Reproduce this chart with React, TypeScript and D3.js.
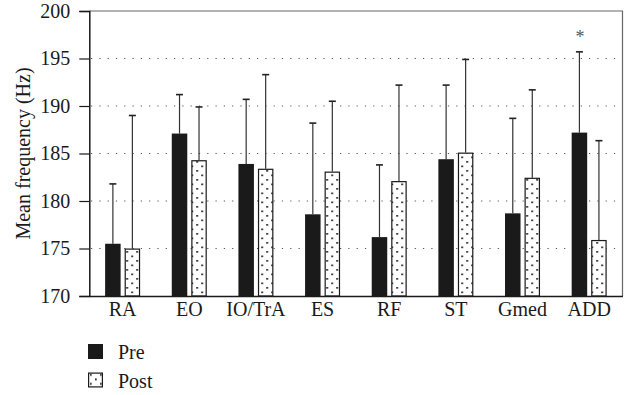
import * as d3 from "d3";
import { useEffect, useRef } from "react";

const categories = ["RA", "EO", "IO/TrA", "ES", "RF", "ST", "Gmed", "ADD"];
const preMeans = [175.5, 187.1, 183.9, 178.6, 176.2, 184.4, 178.7, 187.2];
const preErrTop = [181.8, 191.2, 190.7, 188.2, 183.8, 192.2, 188.7, 195.7];
const postMeans = [175.0, 184.3, 183.4, 183.1, 182.1, 185.1, 182.45, 175.9];
const postErrTop = [189.0, 189.9, 193.3, 190.5, 192.2, 194.9, 191.7, 186.35];
const yTicks = [170, 175, 180, 185, 190, 195, 200];
const gridValues = [175, 180, 185, 190, 195];
const significant = ["ADD"];

const FONT = "'Liberation Serif', 'Times New Roman', serif";
const FS = 20;

export default function App() {
  const ref = useRef<SVGSVGElement | null>(null);

  useEffect(() => {
    if (!ref.current) return;
    const svg = d3.select(ref.current);
    svg.selectAll("*").remove();

    const W = 637;
    const H = 395;
    const margin = { top: 11, right: 14.5, bottom: 99, left: 89.3 };
    const width = W - margin.left - margin.right;
    const height = H - margin.top - margin.bottom;

    // dotted fill for the "Post" bars
    const defs = svg.append("defs");
    const pat = defs
      .append("pattern")
      .attr("id", "dots")
      .attr("patternUnits", "userSpaceOnUse")
      .attr("width", 10)
      .attr("height", 9);
    pat.append("rect").attr("width", 10).attr("height", 9).attr("fill", "#fff");
    pat.append("rect").attr("x", 2).attr("y", 1.5).attr("width", 1.7).attr("height", 1.7).attr("fill", "#111");
    pat.append("rect").attr("x", 7).attr("y", 6).attr("width", 1.7).attr("height", 1.7).attr("fill", "#111");

    const g = svg.append("g").attr("transform", `translate(${margin.left},${margin.top})`);

    const x = d3.scaleBand().domain(categories).range([0, width]);
    const y = d3.scaleLinear().domain([170, 200]).range([height, 0]);

    // gridlines
    g.selectAll(".grid")
      .data(gridValues)
      .enter()
      .append("line")
      .attr("x1", 0)
      .attr("x2", width)
      .attr("y1", (d) => y(d))
      .attr("y2", (d) => y(d))
      .attr("stroke", "#555")
      .attr("stroke-width", 1.2)
      .attr("stroke-dasharray", "1.2,7.1")
      .attr("stroke-dashoffset", -10);

    // frame top & right
    g.append("path")
      .attr("d", `M0,0H${width}V${height}`)
      .attr("fill", "none")
      .attr("stroke", "#666")
      .attr("stroke-width", 1.2);

    const barW = 15.5;
    const gap = 2;

    const rows = categories.map((c, i) => ({
      c,
      pre: preMeans[i],
      preErr: preErrTop[i],
      post: postMeans[i],
      postErr: postErrTop[i],
    }));

    const cx = (c: string) => x(c)! + x.bandwidth() / 2;

    // error bars
    const errs = rows.flatMap((r) => [
      { xc: cx(r.c) - gap - barW / 2, v: r.pre, e: r.preErr },
      { xc: cx(r.c) + gap + barW / 2, v: r.post, e: r.postErr },
    ]);
    const eb = g.selectAll(".err").data(errs).enter().append("g");
    eb.append("line")
      .attr("x1", (d) => d.xc)
      .attr("x2", (d) => d.xc)
      .attr("y1", (d) => y(d.v))
      .attr("y2", (d) => y(d.e))
      .attr("stroke", "#333")
      .attr("stroke-width", 1.2);
    eb.append("line")
      .attr("x1", (d) => d.xc - 3.5)
      .attr("x2", (d) => d.xc + 3.5)
      .attr("y1", (d) => y(d.e))
      .attr("y2", (d) => y(d.e))
      .attr("stroke", "#222")
      .attr("stroke-width", 1.6);

    // pre bars
    g.selectAll(".pre")
      .data(rows)
      .enter()
      .append("rect")
      .attr("x", (d) => cx(d.c) - gap - barW)
      .attr("y", (d) => y(d.pre))
      .attr("width", barW)
      .attr("height", (d) => height - y(d.pre))
      .attr("fill", "#1a1a1a");

    // post bars
    g.selectAll(".post")
      .data(rows)
      .enter()
      .append("rect")
      .attr("x", (d) => cx(d.c) + gap + 0.6)
      .attr("y", (d) => y(d.post) + 0.6)
      .attr("width", barW - 1.2)
      .attr("height", (d) => height - y(d.post) - 0.6)
      .attr("fill", "url(#dots)")
      .attr("stroke", "#1a1a1a")
      .attr("stroke-width", 1.2);

    // significance marks
    g.selectAll(".sig")
      .data(rows.filter((r) => significant.includes(r.c)))
      .enter()
      .append("text")
      .attr("x", (d) => cx(d.c) - gap - barW / 2 + 0.5)
      .attr("y", 32)
      .attr("text-anchor", "middle")
      .attr("font-family", FONT)
      .attr("font-size", 18)
      .attr("fill", "#555")
      .text("*");

    // axes
    const yAxis = g
      .append("g")
      .call(d3.axisLeft(y).tickValues(yTicks).tickSize(10).tickPadding(9).tickFormat(d3.format("d")));
    yAxis.select(".domain").attr("stroke", "#1a1a1a").attr("stroke-width", 1.5);
    yAxis.selectAll(".tick line").attr("stroke", "#1a1a1a").attr("stroke-width", 1.2);
    yAxis
      .selectAll(".tick text")
      .attr("font-family", FONT)
      .attr("font-size", FS)
      .attr("fill", "#1a1a1a");

    const xAxis = g
      .append("g")
      .attr("transform", `translate(0,${height})`)
      .call(d3.axisBottom(x).tickSize(0).tickPadding(6));
    xAxis.select(".domain").attr("stroke", "#1a1a1a").attr("stroke-width", 1.5);
    xAxis
      .selectAll(".tick text")
      .attr("font-family", FONT)
      .attr("font-size", FS)
      .attr("fill", "#1a1a1a");

    // y label
    svg
      .append("text")
      .attr("transform", `translate(25,${margin.top + height / 2}) rotate(-90)`)
      .attr("text-anchor", "middle")
      .attr("dominant-baseline", "middle")
      .attr("font-family", FONT)
      .attr("font-size", FS)
      .attr("fill", "#1a1a1a")
      .text("Mean frequency (Hz)");

    // legend
    const legend = svg.append("g").attr("transform", "translate(88,344)");
    const items = [
      { label: "Pre", fill: "#1a1a1a" },
      { label: "Post", fill: "url(#dots)" },
    ];
    const li = legend
      .selectAll("g")
      .data(items)
      .enter()
      .append("g")
      .attr("transform", (_d, i) => `translate(0,${i * 28.5})`);
    li.append("rect")
      .attr("x", (d, i) => (i === 1 ? 0.6 : 0))
      .attr("y", (d, i) => (i === 1 ? 0.6 : 0))
      .attr("width", (d, i) => (i === 1 ? 13.8 : 15))
      .attr("height", (d, i) => (i === 1 ? 13.8 : 15))
      .attr("fill", (d) => d.fill)
      .attr("stroke", (d, i) => (i === 1 ? "#1a1a1a" : "none"))
      .attr("stroke-width", 1.2);
    li.append("text")
      .attr("x", 30)
      .attr("y", 15)
      .attr("font-family", FONT)
      .attr("font-size", FS)
      .attr("fill", "#1a1a1a")
      .text((d) => d.label);
  }, []);

  return (
    <div>
      <svg ref={ref} width={637} height={395} style={{ position: "absolute", left: 0, top: 0 }}></svg>
    </div>
  );
}
